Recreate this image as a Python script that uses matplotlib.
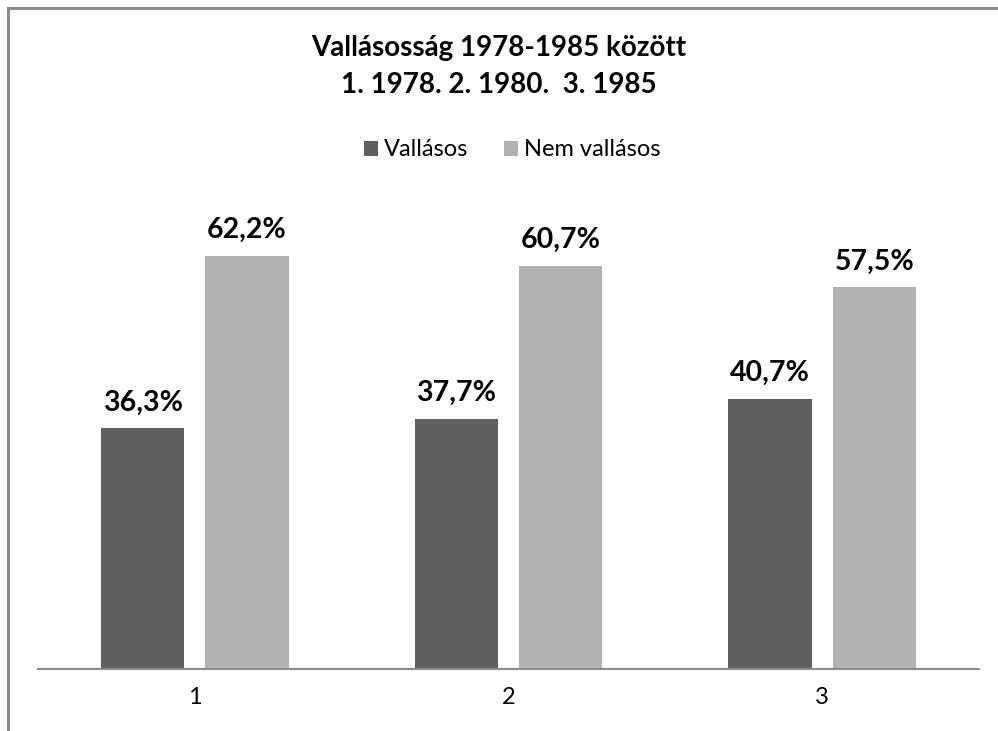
import matplotlib
matplotlib.use("Agg")
import matplotlib.pyplot as plt
import numpy as np
from matplotlib.patches import Rectangle

categories = ["1", "2", "3"]
series_names = ["Vallásos", "Nem vallásos"]
vallasos = [36.3, 37.7, 40.7]
nem_vallasos = [62.2, 60.7, 57.5]
title_lines = ["Vallásosság 1978-1985 között", "1. 1978. 2. 1980.  3. 1985"]

colors = ["#606060", "#b2b2b2"]
font = "Lato"

W, H = 998, 731
fig = plt.figure(figsize=(W / 100, H / 100), dpi=100)
fig.patch.set_facecolor("white")

# outer border
fig.add_artist(Rectangle((8 / W, -0.1), 1.2, 1 - 8 / H + 0.1, transform=fig.transFigure,
                         fill=False, edgecolor="#8c8c8c", linewidth=2.2))

ax = fig.add_axes([38 / W, (H - 669) / H, (979 - 38) / W, (669 - 204) / H])
x = np.arange(len(categories))
bw = 0.265
off = 0.1665
b1 = ax.bar(x - off, vallasos, bw, color=colors[0], label=series_names[0])
b2 = ax.bar(x + off, nem_vallasos, bw, color=colors[1], label=series_names[1])
ax.set_xlim(-0.5, len(categories) - 0.5)
ax.set_ylim(0, 70)

for bars, vals in ((b1, vallasos), (b2, nem_vallasos)):
    for r, v in zip(bars, vals):
        ax.annotate(f"{v:.1f}%".replace(".", ","), (r.get_x() + r.get_width() / 2, v),
                    xytext=(0, 9), textcoords="offset points", ha="center", va="bottom",
                    fontsize=20.5, fontweight="bold", family=font, color="black")

for s in ["top", "right", "left"]:
    ax.spines[s].set_visible(False)
ax.spines["bottom"].set_color("#8c8c8c")
ax.spines["bottom"].set_linewidth(1.5)
ax.set_yticks([])
ax.set_xticks(x)
ax.set_xticklabels(categories, fontsize=17, family=font)
ax.tick_params(axis="x", length=0, pad=13)

fig.text(499 / W, 1 - 48 / H, title_lines[0], ha="center", va="center",
         fontsize=20, fontweight="bold", family=font)
fig.text(499 / W, 1 - 85 / H, title_lines[1], ha="center", va="center",
         fontsize=20, fontweight="bold", family=font)

leg = fig.legend(loc="center", bbox_to_anchor=(512 / W, 1 - 150 / H), ncol=2, frameon=False,
                 prop={"family": font, "size": 17}, handlelength=0.6, handleheight=0.6,
                 handletextpad=0.25, columnspacing=1.5)

fig.savefig("out.png", dpi=100, facecolor="white")
